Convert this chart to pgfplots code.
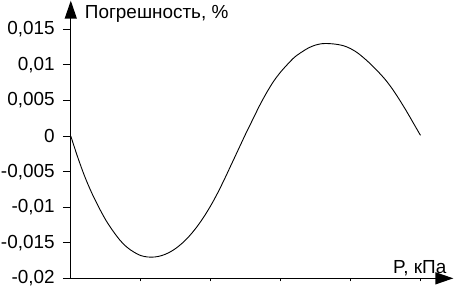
\documentclass[border=0pt]{standalone}
\usepackage{fontspec}
\setmainfont{Liberation Sans}
\usepackage{pgfplots}
\pgfplotsset{compat=1.18}
\usetikzlibrary{arrows.meta}
\begin{document}
\begin{tikzpicture}
\begin{axis}[
  scale only axis, width=383bp, height=278bp,
  xmin=0, xmax=5.47, ymin=-0.02, ymax=0.01904,
  axis lines=left,
  axis line style={line width=1.3bp, -{Triangle[length=18bp,width=12bp]}},
  scaled y ticks=false, scaled x ticks=false,
  xtick={1,2,3,4,5}, xticklabels={},
  ytick={-0.02,-0.015,-0.01,-0.005,0,0.005,0.01,0.015},
  yticklabels={{-0,02},{-0,015},{-0,01},{-0,005},{0},{0,005},{0,01},{0,015}},
  tick align=outside, major tick length=8bp,
  xtick style={/pgfplots/major tick length=3bp},
  tick style={line width=1bp, black},
  every tick label/.append style={font=\fontsize{19}{21}\selectfont, inner sep=1bp},
  yticklabel style={xshift=-7bp},
  xlabel={P, кПа},
  xlabel style={font=\fontsize{19}{21}\selectfont, at={(rel axis cs:0.982,0)}, anchor=base east, yshift=5bp, inner sep=0pt},
  ylabel={Погрешность, \%},
  ylabel style={font=\fontsize{19}{21}\selectfont, rotate=-90, at={(rel axis cs:0,0.934)}, anchor=base west, xshift=14bp, inner sep=0pt},
  clip=false,
]
\addplot[black, line width=0.9bp, smooth] coordinates {
(0,0) (0.1,-0.0030) (0.2,-0.0057) (0.3,-0.0080) (0.4,-0.0100) (0.5,-0.0118)
(0.6,-0.0133) (0.7,-0.0146) (0.8,-0.0156) (0.9,-0.0163) (1.0,-0.0168)
(1.1,-0.0170) (1.2,-0.0170) (1.3,-0.0168) (1.4,-0.0164) (1.5,-0.0158)
(1.6,-0.0150) (1.7,-0.0140) (1.8,-0.0128) (1.9,-0.0114) (2.0,-0.0098)
(2.1,-0.0080) (2.2,-0.0060) (2.3,-0.0039) (2.4,-0.0018) (2.5,0.0003)
(2.6,0.0023) (2.7,0.0043) (2.8,0.0061) (2.9,0.0077) (3.0,0.0090)
(3.1,0.0101) (3.2,0.0111) (3.3,0.0118) (3.4,0.0124) (3.5,0.0128)
(3.6,0.0130) (3.7,0.0130) (3.8,0.0129) (3.9,0.0127) (4.0,0.0123)
(4.1,0.0117) (4.2,0.0109) (4.3,0.0100) (4.4,0.0090) (4.5,0.0079)
(4.6,0.0066) (4.7,0.0051) (4.8,0.0035) (4.9,0.0018) (5.0,0.0001)
};
\end{axis}
\end{tikzpicture}
\end{document}
